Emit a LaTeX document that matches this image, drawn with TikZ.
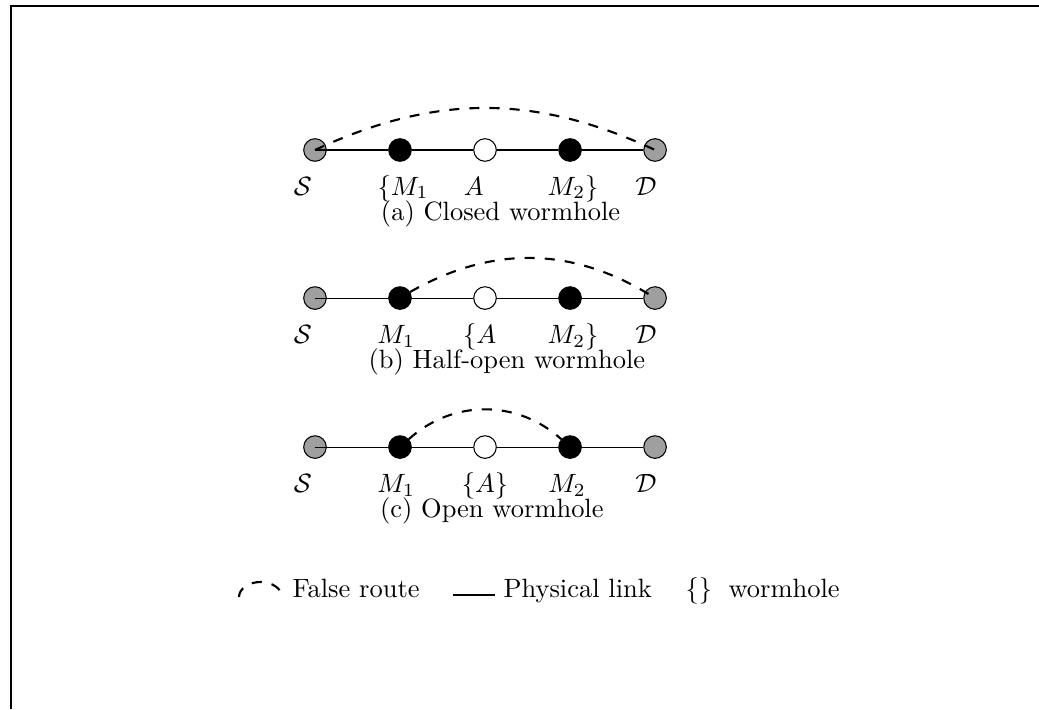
\documentclass[tikz,border=0pt]{standalone}
\usepackage{amsmath}

\tikzset{
  endnode/.style={circle,draw,fill=gray!75,minimum size=0.3cm,inner sep=0pt},
  malnode/.style={circle,draw,fill=black,minimum size=0.3cm,inner sep=0pt},
  hnode/.style={circle,draw,fill=white,minimum size=0.3cm,inner sep=0pt},
  lab/.style={anchor=base,inner sep=0pt},
  falseroute/.style={dash pattern=on 3.8pt off 3.8pt,thick},
}

\begin{document}
\begin{tikzpicture}
				\useasboundingbox (0,0) rectangle (13.798,9.416);
				\draw[line width=0.8pt] (0.146,0) -- (0.146,9.336) -- (13.85,9.336);
				% (a) closed
				\node[endnode] (sa) at (4.183,7.424) {};
				\node[malnode] (m1a) at (5.312,7.424) {};
				\node[hnode] (aa) at (6.441,7.424) {};
				\node[malnode] (m2a) at (7.570,7.424) {};
				\node[endnode] (da) at (8.699,7.424) {};
				\draw (sa.center) -- (m1a) -- (aa) -- (m2a) -- (da);
				\draw[falseroute] (sa.center) to[bend left=25] (da.center);
				\node[lab] (lsa) at ([xshift=-0.16cm,yshift=-0.598cm]sa) {$\mathcal{S}$};
				\node[lab] (lm1a) at ([xshift=0.04cm,yshift=-0.598cm]m1a) {$\{M_1$};
				\node[lab] (laa) at ([xshift=-0.15cm,yshift=-0.598cm]aa) {$A$};
				\node[lab] (lm2a) at ([xshift=0.04cm,yshift=-0.598cm]m2a) {$M_2\}$};
				\node[lab] (lda) at ([xshift=-0.12cm,yshift=-0.598cm]da) {$\mathcal{D}$};
				\node[lab] (capa) at ([xshift=0.206cm,yshift=-0.93cm]aa) {(a) Closed wormhole};
				% (b) half-open
				\node[endnode] (sb) at (4.183,5.458) {};
				\node[malnode] (m1b) at (5.312,5.458) {};
				\node[hnode] (ab) at (6.441,5.458) {};
				\node[malnode] (m2b) at (7.570,5.458) {};
				\node[endnode] (db) at (8.699,5.458) {};
				\draw (sb.center) -- (m1b) -- (ab) -- (m2b) -- (db);
				\draw[falseroute] (m1b) to[bend left=31] (db.center);
				\node[lab] (lsb) at ([xshift=-0.16cm,yshift=-0.598cm]sb) {$\mathcal{S}$};
				\node[lab] (lm1b) at ([xshift=-0.05cm,yshift=-0.598cm]m1b) {$M_1$};
				\node[lab] (lab) at ([xshift=-0.07cm,yshift=-0.598cm]ab) {$\{A$};
				\node[lab] (lm2b) at ([xshift=0.04cm,yshift=-0.598cm]m2b) {$M_2\}$};
				\node[lab] (ldb) at ([xshift=-0.12cm,yshift=-0.598cm]db) {$\mathcal{D}$};
				\node[lab] (capb) at ([xshift=0.29cm,yshift=-0.93cm]ab) {(b) Half-open wormhole};
				% (c) open
				\node[endnode] (sc) at (4.183,3.479) {};
				\node[malnode] (m1c) at (5.312,3.479) {};
				\node[hnode] (ac) at (6.441,3.479) {};
				\node[malnode] (m2c) at (7.570,3.479) {};
				\node[endnode] (dc) at (8.699,3.479) {};
				\draw (sc.center) -- (m1c) -- (ac) -- (m2c) -- (dc);
				\draw[falseroute] (m1c) to[bend left=42] (m2c);
				\node[lab] (lsc) at ([xshift=-0.16cm,yshift=-0.598cm]sc) {$\mathcal{S}$};
				\node[lab] (lm1c) at ([xshift=-0.05cm,yshift=-0.598cm]m1c) {$M_1$};
				\node[lab] (lac) at ([yshift=-0.598cm]ac) {$\{A\}$};
				\node[lab] (lm2c) at ([xshift=-0.04cm,yshift=-0.598cm]m2c) {$M_2$};
				\node[lab] (ldc) at ([xshift=-0.12cm,yshift=-0.598cm]dc) {$\mathcal{D}$};
				\node[lab] (capc) at ([xshift=0.09cm,yshift=-0.93cm]ac) {(c) Open wormhole};
				% legend
				\draw[falseroute] (3.174,1.487) arc[start angle=180,end angle=0,x radius=0.285cm,y radius=0.2cm];
				\node[lab,anchor=base west] (lfalse) at (3.878,1.487) {False route};
				\coordinate (phys1) at (6.016,1.514);
				\coordinate (phys2) at (6.574,1.514);
				\draw[thick] (phys1) -- (phys2);
				\node[lab,anchor=base west] (lphys) at (6.680,1.487) {Physical link};
				\node[lab,anchor=base west] (lbrace) at (9.097,1.487) {$\{\}$};
				\node[lab,anchor=base west] (lworm) at (9.668,1.487) {wormhole};
			\end{tikzpicture}
\end{document}
